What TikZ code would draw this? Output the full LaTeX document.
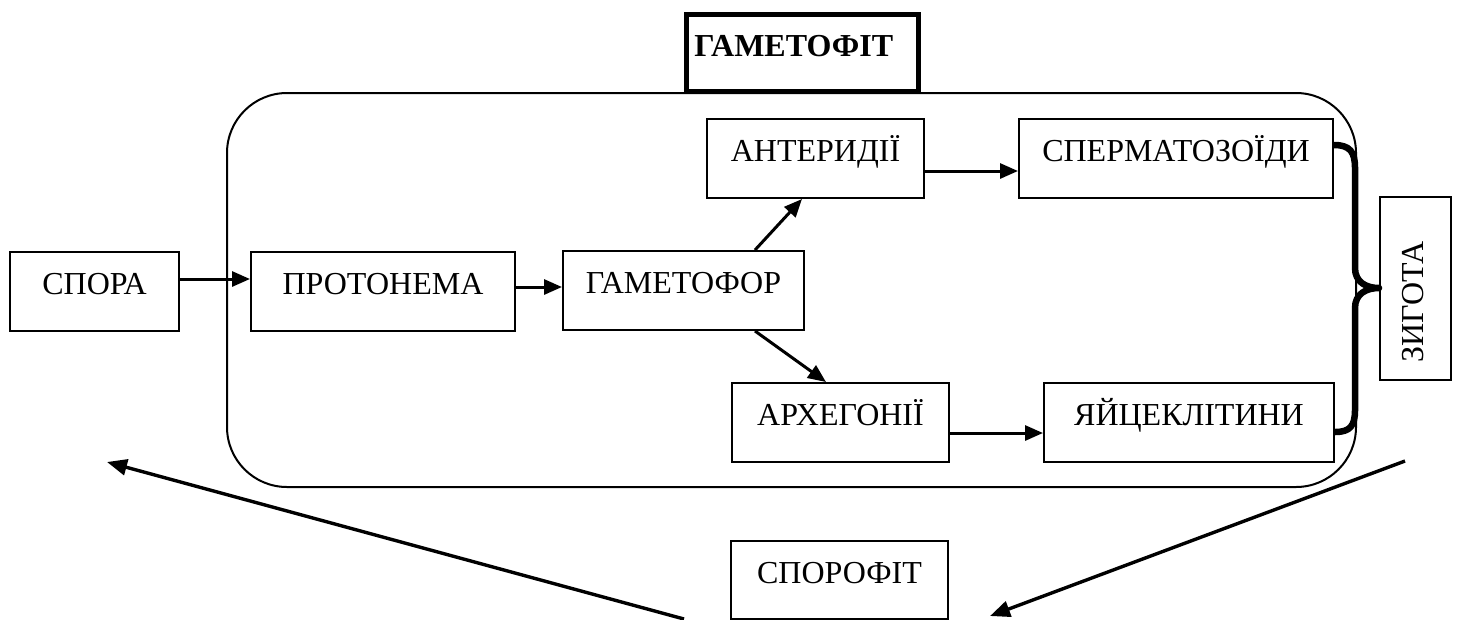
\documentclass[tikz,border=0pt]{standalone}
\usepackage{fontspec}
\setmainfont{Liberation Serif}
\usetikzlibrary{arrows.meta}
\begin{document}
\begin{tikzpicture}[x=1pt,y=-1pt,
  txt/.style={font=\fontsize{32}{36}\selectfont},
  box/.style={draw, line width=2pt, inner sep=0pt, text height=42pt, text depth=37pt, txt, anchor=north west},
  arr/.style={line width=3pt, -{Triangle[length=18pt,width=15pt]}},
  bigarr/.style={line width=3.4pt, -{Triangle[length=20pt,width=16pt]}},
]
\useasboundingbox (0,0) rectangle (1458,619);
\fill[white] (0,0) rectangle (1458,619);

% container
\node[draw, line width=2pt, rounded corners=60pt, minimum width=1129pt, minimum height=394pt,
      anchor=north west, inner sep=0pt] (gbox) at (226,92) {};

% title
\node[draw, line width=4.5pt, anchor=north west, inner xsep=8pt, inner ysep=0pt, text width=216pt,
      align=left, text height=42pt, text depth=35pt, font=\fontsize{32}{36}\selectfont\bfseries] (gtitle) at (684,12) {ГАМЕТОФІТ};

% boxes
\node[box, minimum width=169pt] (spora) at (9,251) {СПОРА};
\node[box, minimum width=264pt] (proto) at (250,251) {ПРОТОНЕМА};
\node[box, minimum width=241pt] (gfor)  at (562,250) {ГАМЕТОФОР};
\node[box, minimum width=217pt] (anter) at (706,118) {АНТЕРИДІЇ};
\node[box, minimum width=314pt] (sperm) at (1018,118) {СПЕРМАТОЗОЇДИ};
\node[box, minimum width=217pt] (arch)  at (731,382) {АРХЕГОНІЇ};
\node[box, minimum width=290pt] (egg)   at (1043,382) {ЯЙЦЕКЛІТИНИ};
\node[box, minimum width=217pt, text depth=36pt] (sporo) at (730,540) {СПОРОФІТ};

% zygote
\node[draw, line width=2pt, minimum width=71pt, minimum height=183pt, inner sep=0pt,
      anchor=north west] (zyg) at (1379,196) {};
\node[txt, rotate=90, inner sep=0pt, anchor=base] (zygt) at (1423,302) {ЗИГОТА};

% connectors
\draw[arr] (spora.east |- 0,279) -- (proto.west |- 0,279);
\draw[arr] (proto.east |- 0,287) -- (gfor.west |- 0,287);
\draw[arr] (gfor.north -| 755,0) -- (anter.south -| 802,0);
\draw[arr] (gfor.south -| 755,0) -- (arch.north -| 826,0);
\draw[arr] (anter.east |- 0,171) -- (sperm.west |- 0,171);
\draw[arr] (arch.east |- 0,433) -- (egg.west |- 0,433);

% brace
\draw[line width=6.5pt, line join=round, line cap=butt]
  (sperm.east |- 0,145) .. controls (1350,145) and (1355,152) .. (1355,168)
  -- (1355,268) .. controls (1355,282) and (1366,288) .. (zyg.west |- 0,288)
  .. controls (1366,288) and (1355,294) .. (1355,308)
  -- (1355,410) .. controls (1355,426) and (1350,432) .. (egg.east |- 0,432);

% sporophyte cycle arrows
\coordinate (la) at (684,619);
\coordinate (lb) at (107,462);
\coordinate (ra) at (1405,461);
\coordinate (rb) at (990,616);
\draw[bigarr] (la) -- (lb);
\draw[bigarr] (ra) -- (rb);
\end{tikzpicture}
\end{document}
